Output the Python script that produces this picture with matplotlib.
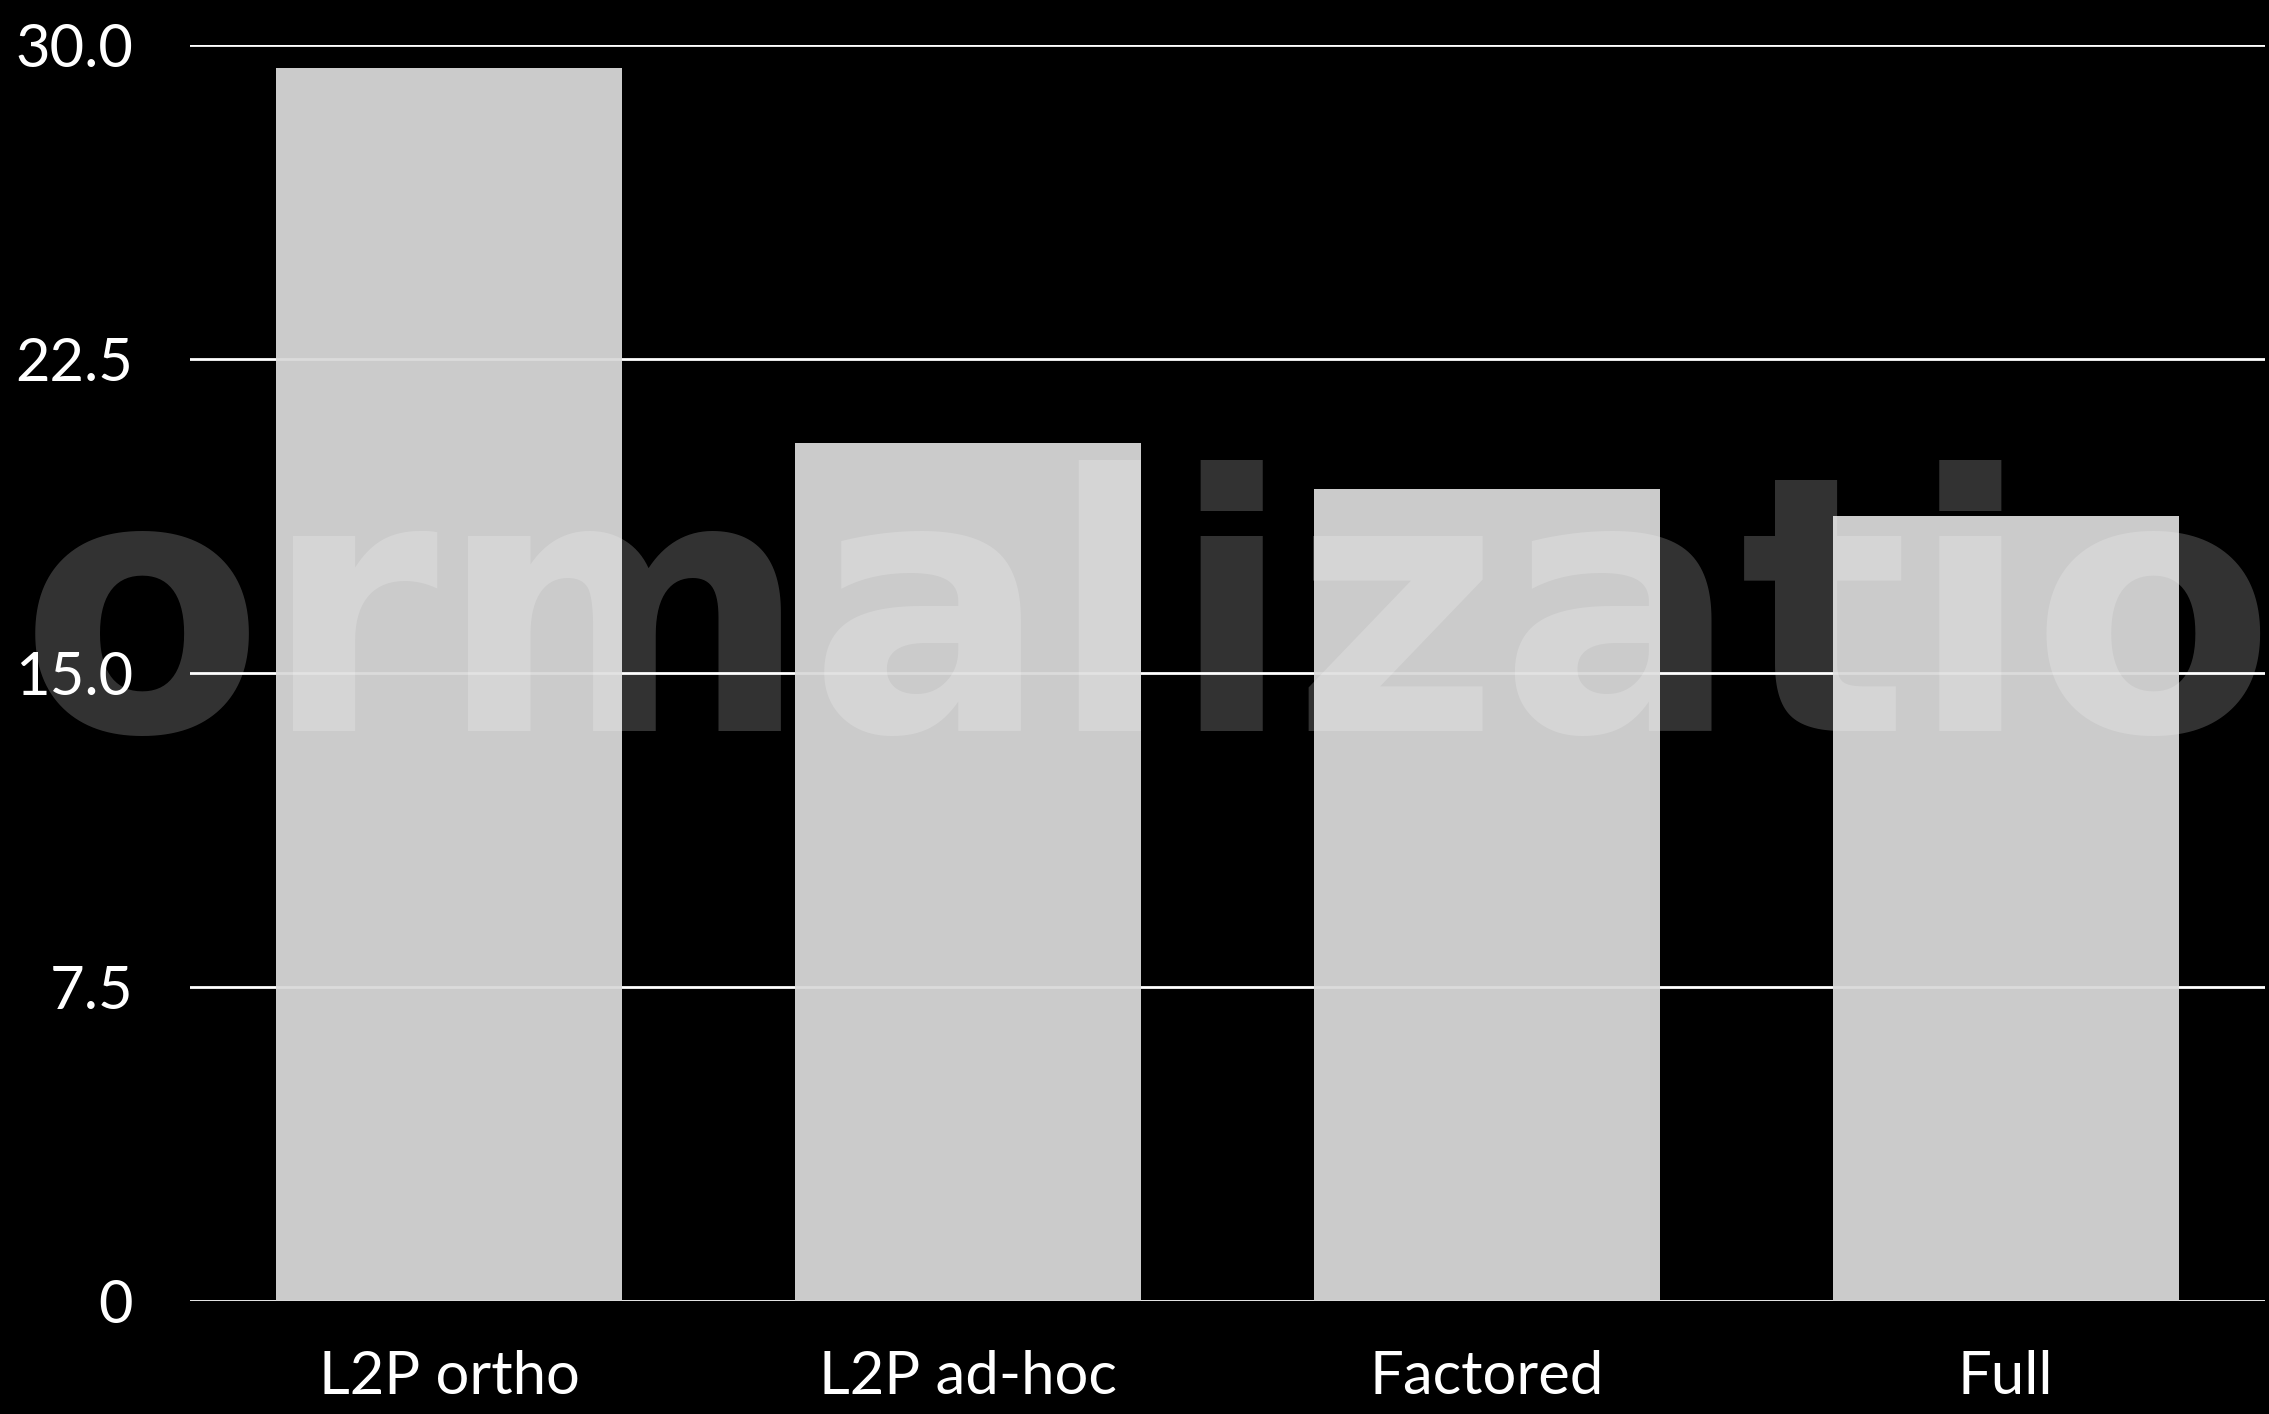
import matplotlib
matplotlib.use("Agg")
from matplotlib import pyplot as plt

methods = ["L2P ortho", "L2P ad-hoc", "Factored", "Full"]
scores = [29.45, 20.49, 19.39, 18.75]
yticks = [0, 7.5, 15.0, 22.5, 30.0]
ytick_labels = ["0", "7.5", "15.0", "22.5", "30.0"]

plt.rcParams["font.family"] = ["Lato", "DejaVu Sans"]

fig = plt.figure(figsize=(22.69, 14.14), dpi=100, facecolor="black")
ax = fig.add_axes([190 / 2269, 0.0799, (2265 - 190) / 2269, 0.9682 - 0.0799])
ax.set_facecolor("black")

x = range(len(methods))
ax.bar(x, scores, width=0.667, color="#d9d9d9", alpha=0.94, zorder=2)

ax.set_xlim(-0.5, len(methods) - 0.5)
ax.set_ylim(0, 30)
ax.set_yticks(yticks)
ax.set_yticklabels(ytick_labels)
ax.set_xticks(list(x))
ax.set_xticklabels(methods)
ax.yaxis.grid(True, color="white", linewidth=2.0, zorder=1)
ax.set_axisbelow(True)

for side in ["top", "right", "bottom", "left"]:
    ax.spines[side].set_visible(False)
ax.tick_params(axis="y", length=0, pad=41, labelsize=43, labelcolor="white")
ax.tick_params(axis="x", length=0, pad=35, labelsize=43, labelcolor="white")

# big faded word running behind the chart
fig.text(20 / 2269, 1 - 731 / 1414, "ormalizatio", fontsize=256,
         fontweight="bold", family="DejaVu Sans", color="white", alpha=0.2,
         ha="left", va="baseline", zorder=5)

fig.savefig("out.png", dpi=100, facecolor="black")
